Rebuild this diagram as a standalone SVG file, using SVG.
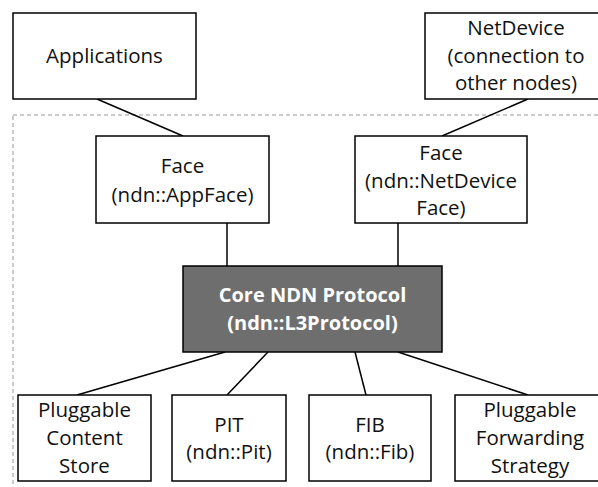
<svg xmlns="http://www.w3.org/2000/svg" width="598" height="487" viewBox="0 0 598 487">
<style>
.box{fill:#fff;stroke:#000;stroke-width:1.5}
.core{fill:#6e6e6e;stroke:#000;stroke-width:1.5}
.t{font-family:"Open Sans",Lato,sans-serif;font-size:20.5px;fill:#111;text-anchor:middle}
.tb{font-family:"Open Sans",Lato,sans-serif;font-size:20px;font-weight:bold;fill:#fff;text-anchor:middle}
.c line{stroke:#000;stroke-width:1.5}
</style>
<rect width="598" height="487" fill="#fff"/>
<rect x="13" y="115" width="600" height="400" fill="none" stroke="#999" stroke-width="1" stroke-dasharray="4,3"/>
<g class="c">
<line x1="97" y1="99" x2="183" y2="136"/>
<line x1="528" y1="99" x2="442" y2="136"/>
<line x1="227" y1="223" x2="227" y2="266"/>
<line x1="398" y1="223" x2="398" y2="266"/>
<line x1="225" y1="352" x2="77" y2="395"/>
<line x1="268" y1="352" x2="227" y2="395"/>
<line x1="355" y1="352" x2="366" y2="395"/>
<line x1="398" y1="352" x2="528" y2="395"/>
</g>
<g id="applications"><rect class="box" x="13" y="13" width="183" height="86"/><text class="t" x="104.5" y="63">Applications</text></g>
<g id="netdevice"><rect class="box" x="425" y="13" width="182" height="86"/><text class="t" x="516" y="35">NetDevice</text><text class="t" x="516" y="63">(connection to</text><text class="t" x="516" y="90">other nodes)</text></g>
<g id="appface"><rect class="box" x="96" y="136" width="173" height="87"/><text class="t" x="182.5" y="173">Face</text><text class="t" x="182.5" y="202">(ndn::AppFace)</text></g>
<g id="netdeviceface"><rect class="box" x="355" y="136" width="172" height="87"/><text class="t" x="441" y="160">Face</text><text class="t" x="441" y="188">(ndn::NetDevice</text><text class="t" x="441" y="215">Face)</text></g>
<g id="core"><rect class="core" x="183" y="266" width="259" height="86"/><text class="tb" x="312.5" y="302">Core NDN Protocol</text><text class="tb" x="312.5" y="330">(ndn::L3Protocol)</text></g>
<g id="cs"><rect class="box" x="18" y="395" width="133" height="86"/><text class="t" x="84.5" y="417">Pluggable</text><text class="t" x="84.5" y="445">Content</text><text class="t" x="84.5" y="473">Store</text></g>
<g id="pit"><rect class="box" x="172" y="395" width="114" height="86"/><text class="t" x="229" y="432">PIT</text><text class="t" x="229" y="459">(ndn::Pit)</text></g>
<g id="fib"><rect class="box" x="309" y="395" width="122" height="86"/><text class="t" x="370" y="432">FIB</text><text class="t" x="370" y="459">(ndn::Fib)</text></g>
<g id="strategy"><rect class="box" x="455" y="395" width="150" height="86"/><text class="t" x="530" y="417">Pluggable</text><text class="t" x="530" y="445">Forwarding</text><text class="t" x="530" y="473">Strategy</text></g>
</svg>
